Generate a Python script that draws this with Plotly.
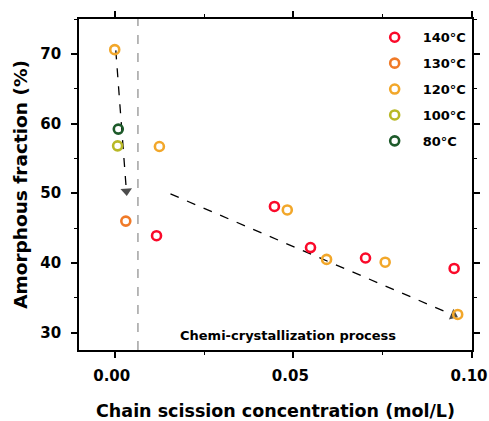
import plotly.graph_objects as go

# ---- data ----
x_140 = [0.0117, 0.0447, 0.0548, 0.0702, 0.0950]
y_140 = [43.9, 48.1, 42.2, 40.7, 39.2]
x_130 = [0.0031]
y_130 = [46.0]
x_120 = [0.0, 0.0125, 0.0483, 0.0593, 0.0757, 0.0960]
y_120 = [70.6, 56.7, 47.6, 40.5, 40.1, 32.6]
x_100 = [0.0008]
y_100 = [56.8]
x_80 = [0.0010]
y_80 = [59.2]

arrow1_x = [0.0003, 0.00327]
arrow1_y = [70.5, 50.3]
arrow2_x = [0.0156, 0.0948]
arrow2_y = [49.9, 32.5]
divider_x = 0.0065

series = [
    ("140°C", x_140, y_140, "#fa0a2a"),
    ("130°C", x_130, y_130, "#f07a28"),
    ("120°C", x_120, y_120, "#f2a72a"),
    ("100°C", x_100, y_100, "#b8b826"),
    ("80°C", x_80, y_80, "#1d5a2a"),
]

FONT = "DejaVu Sans"

fig = go.Figure()

# divider line
fig.add_shape(type="line", xref="x", yref="paper", x0=divider_x, x1=divider_x, y0=0, y1=1,
              line=dict(color="#8a8a8a", width=1.2, dash="dash"), layer="below")

# dashed arrows
for ax_, ay_ in [(arrow1_x, arrow1_y), (arrow2_x, arrow2_y)]:
    fig.add_trace(go.Scatter(
        x=ax_, y=ay_, mode="lines+markers", showlegend=False, hoverinfo="skip",
        line=dict(color="black", width=1.3, dash="dash"),
        marker=dict(symbol="triangle-up", size=[0, 10], angleref="previous",
                    color="black", line=dict(width=0)),
    ))

for name, xs, ys, col in series:
    fig.add_trace(go.Scatter(
        x=xs, y=ys, mode="markers", name=name, legendgroup=name,
        marker=dict(symbol="circle-open", size=9, color=col, line=dict(width=2.6, color=col)),
    ))

fig.add_annotation(x=0.0486, y=29.6, xref="x", yref="y", text="Chemi-crystallization process",
                   showarrow=False, font=dict(family=FONT, size=13, color="black", weight="bold"))

axis_common = dict(
    showline=True, linecolor="black", linewidth=1.6, mirror="allticks",
    ticks="outside", ticklen=6, tickwidth=1.6, tickcolor="black",
    showgrid=False, zeroline=False, automargin=False, ticklabeloverflow="allow",
    tickfont=dict(family=FONT, size=15, color="black", weight="bold"),
)

fig.update_xaxes(
    range=[-0.01, 0.10], dtick=0.05, tick0=0, tickformat=".2f",
    minor=dict(dtick=0.025, ticks="outside", ticklen=3, tickwidth=1.4, tickcolor="black"),
    title=dict(text="Chain scission concentration (mol/L)", standoff=22,
               font=dict(family=FONT, size=17.5, color="black", weight="bold")),
    ticklabelstandoff=5, ticklabelshift=-3,
    **axis_common,
)
fig.update_yaxes(
    range=[27.5, 75], dtick=10, tick0=0,
    minor=dict(dtick=5, ticks="outside", ticklen=3, tickwidth=1.4, tickcolor="black"),
    title=dict(text="Amorphous fraction (%)", standoff=8,
               font=dict(family=FONT, size=18.5, color="black", weight="bold")),
    ticklabelstandoff=7,
    **axis_common,
)

fig.update_layout(
    width=489, height=421,
    margin=dict(l=79, r=17, t=19, b=71),
    paper_bgcolor="white", plot_bgcolor="white",
    legend=dict(x=0.732, y=0.99, xanchor="left", yanchor="top",
                bgcolor="rgba(0,0,0,0)", itemwidth=46, tracegroupgap=6,
                font=dict(family=FONT, size=13, color="black", weight="bold")),
    showlegend=True,
)

# remove the default page margin so the 489x421 figure fills the window exactly
post = "document.body.style.margin='0';document.body.style.overflow='hidden';"

fig.write_html("out.html", post_script=post, config={"displayModeBar": False})
